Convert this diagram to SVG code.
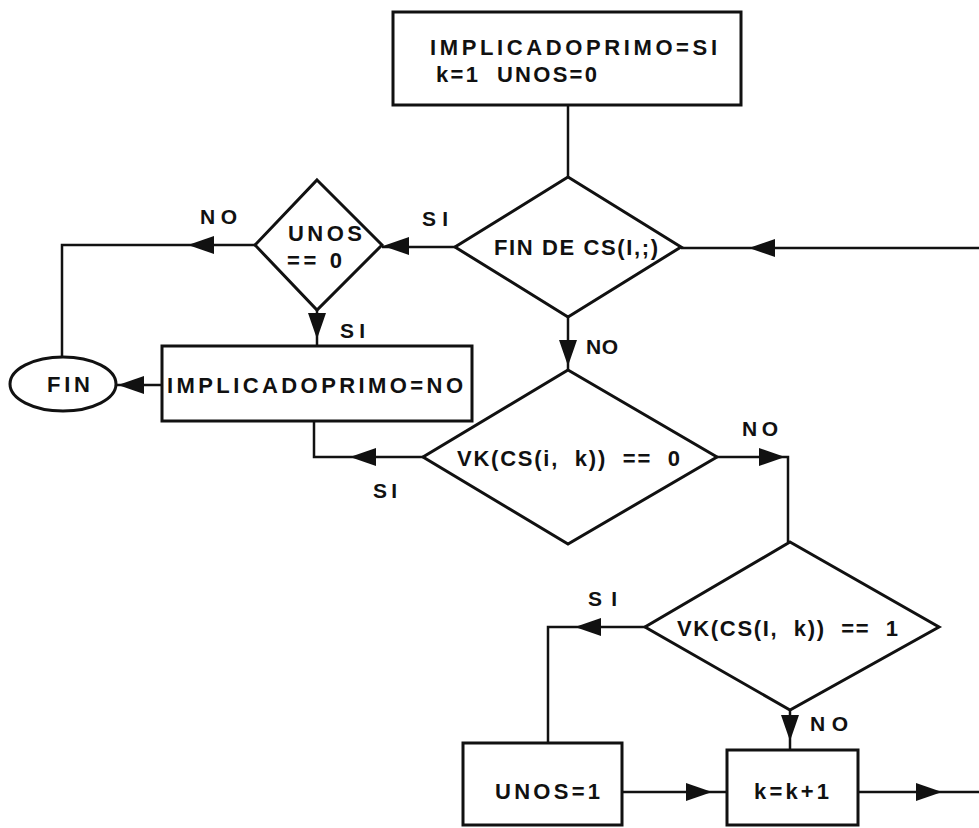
<svg xmlns="http://www.w3.org/2000/svg" xmlns:xlink="http://www.w3.org/1999/xlink" width="979" height="828" viewBox="0 0 979 828">
<style>
.s{fill:#fff;stroke:#111;stroke-width:3}
.c{fill:none;stroke:#111;stroke-width:2.5}
.t{font-family:"Liberation Sans",Arial,sans-serif;font-weight:bold;font-size:22px;fill:#111}
.l{font-family:"Liberation Sans",Arial,sans-serif;font-weight:bold;font-size:21px;fill:#111}
.a{fill:#111}
</style>
<defs>
<path id="ah" d="M0,0 L-26,-9 L-26,9 Z"/>
</defs>
<rect width="979" height="828" fill="#fff"/>
<g id="connectors">
<path class="c" d="M568,105 V177"/>
<path class="c" d="M979,248 H681"/>
<path class="c" d="M455,247 H382"/>
<path class="c" d="M255,245 H62 V357"/>
<path class="c" d="M317,310 V346"/>
<path class="c" d="M162,385 H116"/>
<path class="c" d="M568,317 V370"/>
<path class="c" d="M423,457 H314 V421"/>
<path class="c" d="M717,457 H788 V542"/>
<path class="c" d="M645,627 H548 V743"/>
<path class="c" d="M790,710 V750"/>
<path class="c" d="M622,792 H727"/>
<path class="c" d="M858,792 H979"/>
<use href="#ah" class="a" transform="translate(749,248) rotate(180)"/>
<use href="#ah" class="a" transform="translate(383,246) rotate(180)"/>
<use href="#ah" class="a" transform="translate(188,245) rotate(180)"/>
<use href="#ah" class="a" transform="translate(317,339) rotate(90)"/>
<use href="#ah" class="a" transform="translate(118,385) rotate(180)"/>
<use href="#ah" class="a" transform="translate(568,366) rotate(90)"/>
<use href="#ah" class="a" transform="translate(350,457) rotate(180)"/>
<use href="#ah" class="a" transform="translate(785,457)"/>
<use href="#ah" class="a" transform="translate(575,627) rotate(180)"/>
<use href="#ah" class="a" transform="translate(790,741) rotate(90)"/>
<use href="#ah" class="a" transform="translate(712,792)"/>
<use href="#ah" class="a" transform="translate(942,792)"/>
<text class="l" x="200" y="224" textLength="37" lengthAdjust="spacing">NO</text>
<text class="l" x="422" y="226" textLength="26" lengthAdjust="spacing">SI</text>
<text class="l" x="340" y="338" textLength="25" lengthAdjust="spacing">SI</text>
<text class="l" x="586" y="354" textLength="32" lengthAdjust="spacing">NO</text>
<text class="l" x="373" y="498" textLength="24" lengthAdjust="spacing">SI</text>
<text class="l" x="742" y="436" textLength="36" lengthAdjust="spacing">NO</text>
<text class="l" x="588" y="606" textLength="29" lengthAdjust="spacing">SI</text>
<text class="l" x="810" y="731" textLength="38" lengthAdjust="spacing">NO</text>
</g>
<g id="inicio">
<rect class="s" x="393" y="12" width="348" height="93"/>
<text class="t" x="430" y="55" textLength="287" lengthAdjust="spacing">IMPLICADOPRIMO=SI</text>
<text class="t" x="436" y="82" textLength="161" lengthAdjust="spacing" xml:space="preserve">k=1  UNOS=0</text>
</g>
<g id="fin-de-cs">
<polygon class="s" points="568,177 681,247 568,317 455,247"/>
<text class="t" x="494" y="255" textLength="164" lengthAdjust="spacing">FIN DE CS(I,;)</text>
</g>
<g id="unos-cero">
<polygon class="s" points="317,180 382,245 317,310 255,245"/>
<text class="t" x="288" y="241" textLength="74" lengthAdjust="spacing">UNOS</text>
<text class="t" x="287" y="268" textLength="55" lengthAdjust="spacing">== 0</text>
</g>
<g id="fin">
<ellipse class="s" cx="63" cy="384" rx="53" ry="27"/>
<text class="t" x="47" y="392" textLength="43" lengthAdjust="spacing">FIN</text>
</g>
<g id="implicado-no">
<rect class="s" x="162" y="346" width="310" height="75"/>
<text class="t" x="167" y="393" textLength="296" lengthAdjust="spacing">IMPLICADOPRIMO=NO</text>
</g>
<g id="vk-cero">
<polygon class="s" points="568,370 717,457 568,544 423,457"/>
<text class="t" x="457" y="466" textLength="223" lengthAdjust="spacing" xml:space="preserve">VK(CS(i,  k))  ==  0</text>
</g>
<g id="vk-uno">
<polygon class="s" points="790,542 939,627 790,710 645,627"/>
<text class="t" x="677" y="636" textLength="221" lengthAdjust="spacing" xml:space="preserve">VK(CS(I,  k))  ==  1</text>
</g>
<g id="unos-uno">
<rect class="s" x="463" y="743" width="159" height="82"/>
<text class="t" x="495" y="799" textLength="105" lengthAdjust="spacing">UNOS=1</text>
</g>
<g id="k-incremento">
<rect class="s" x="727" y="750" width="131" height="75"/>
<text class="t" x="754" y="799" textLength="75" lengthAdjust="spacing">k=k+1</text>
</g>
</svg>
